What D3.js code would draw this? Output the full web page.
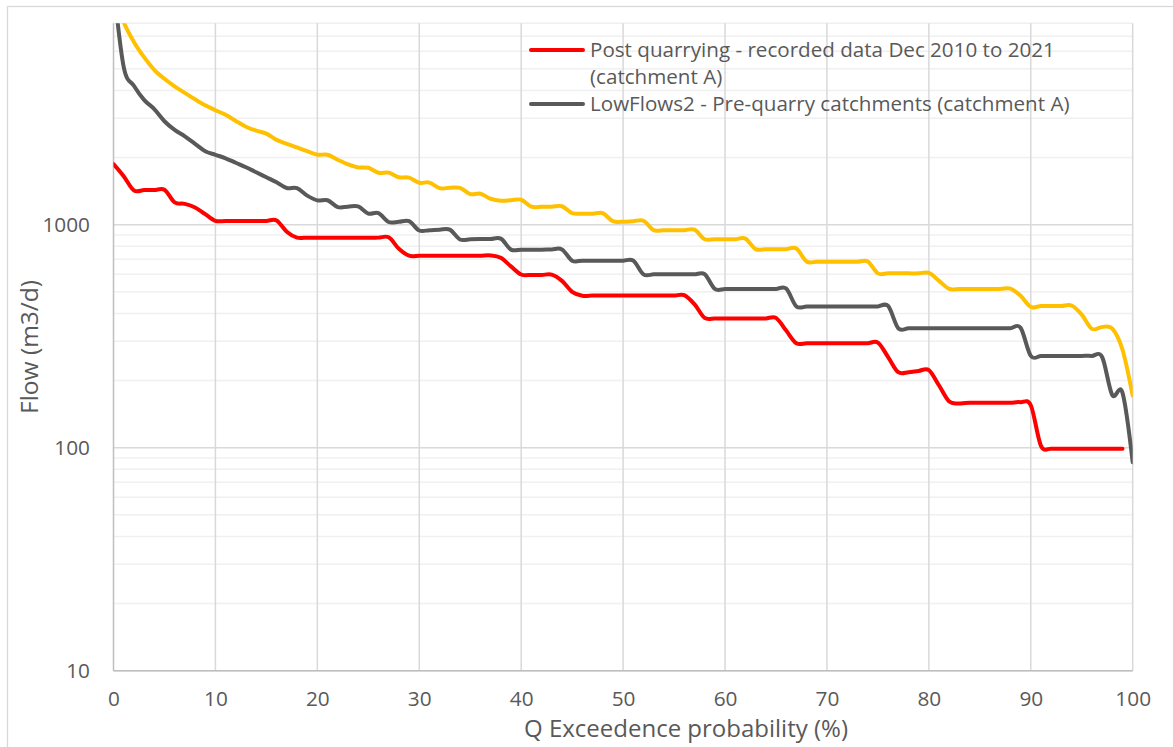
<html>
<head>
<meta charset='UTF-8'>
<title>Flow duration curve</title>
<script src='https://d3js.org/d3.v7.min.js'></script>
<style>
    body { margin: 0; background: #fff; }
    svg text { font-family: 'Open Sans', sans-serif; fill: #595959; }
</style>
</head>

<body>
    <div id='chart'></div>

    <script type='text/javascript'>

        // exceedence probability (%) - one point per percent
        var exceedence = d3.range(0, 101);

        // post quarrying, recorded data (stops at 99 %)
        var postQuarry = [1870, 1650, 1425, 1430, 1430, 1435, 1260, 1240, 1195, 1115,
                          1040, 1040, 1040, 1040, 1040, 1040, 1045, 930, 875, 875,
                          875, 875, 875, 875, 875, 875, 875, 878, 780, 726,
                          726, 726, 726, 726, 726, 726, 726, 728, 710, 650,
                          598, 595, 595, 597, 560, 500, 480, 481, 481, 481,
                          481, 481, 481, 481, 481, 481, 483, 440, 382, 380,
                          380, 380, 380, 380, 380, 382, 335, 294, 294, 294,
                          294, 294, 294, 294, 294, 296, 255, 218, 218, 221,
                          223, 190, 161, 158, 159, 159, 159, 159, 159, 160,
                          155, 102, 99, 99, 99, 99, 99, 99, 99, 99];

        // LowFlows2 pre-quarry catchments
        var lowFlows = [12000, 5100, 4200, 3630, 3300, 2910, 2660, 2490, 2305, 2135,
                        2058, 1985, 1895, 1810, 1718, 1632, 1550, 1460, 1457, 1350,
                        1285, 1287, 1200, 1204, 1208, 1122, 1126, 1028, 1031, 1037,
                        942, 945, 950, 950, 858, 861, 863, 863, 866, 773,
                        773, 773, 773, 775, 775, 690, 690, 690, 690, 690,
                        690, 690, 599, 599, 599, 599, 599, 599, 600, 515,
                        515, 515, 515, 515, 515, 515, 517, 430, 430, 430,
                        430, 430, 430, 430, 430, 430, 432, 343, 343, 343,
                        343, 343, 343, 343, 343, 343, 343, 343, 343, 345,
                        258, 258, 258, 258, 258, 258, 258, 255, 172, 176,
                        86];

        // third series (no legend entry)
        var upperSeries = [11000, 8100, 6600, 5640, 4950, 4510, 4170, 3900, 3650, 3430,
                           3260, 3110, 2920, 2750, 2640, 2560, 2400, 2305, 2220, 2135,
                           2060, 2060, 1955, 1866, 1806, 1800, 1710, 1712, 1632, 1625,
                           1542, 1545, 1458, 1464, 1462, 1372, 1377, 1307, 1282, 1288,
                           1294, 1204, 1204, 1205, 1210, 1126, 1120, 1120, 1126, 1037,
                           1031, 1037, 1042, 945, 945, 945, 945, 950, 861, 861,
                           861, 861, 866, 777, 777, 777, 777, 782, 684, 682,
                           682, 682, 682, 682, 684, 605, 605, 605, 605, 605,
                           608, 560, 515, 515, 515, 515, 515, 515, 517, 480,
                           428, 432, 432, 432, 434, 395, 341, 348, 342, 275,
                           171];

        var xTicks = [0, 10, 20, 30, 40, 50, 60, 70, 80, 90, 100];
        var yTicks = [10, 100, 1000];

        var legendNames = [['Post quarrying - recorded data Dec 2010 to 2021', '(catchment A)'],
                           ['LowFlows2 - Pre-quarry catchments (catchment A)']];

        var width = 1173,
            height = 747;

        var plot = {left: 113.5, right: 1132.7, top: 23.3, bottom: 670.7};

        var svg = d3.select('#chart').append('svg')
                    .attr('width', width)
                    .attr('height', height);

        // chart area border
        svg.append('rect')
           .attr('x', 7.5).attr('y', 6.5)
           .attr('width', 1300).attr('height', 900)
           .attr('fill', '#fff')
           .attr('stroke', '#d9d9d9')
           .attr('stroke-width', 1.3);

        var x = d3.scaleLinear().domain([0, 100]).range([plot.left, plot.right]);
        var y = d3.scaleLog().domain([10, 8000]).range([plot.bottom, plot.top]);

        // horizontal gridlines, minor ones lighter
        svg.append('g').selectAll('line')
           .data(y.ticks())
           .enter().append('line')
             .attr('x1', plot.left).attr('x2', plot.right)
             .attr('y1', function(d) { return y(d); })
             .attr('y2', function(d) { return y(d); })
             .attr('stroke', function(d) {
                 return Math.abs(Math.log10(d) - Math.round(Math.log10(d))) < 1e-9 ? '#d9d9d9' : '#f0f0f0';
             })
             .attr('stroke-width', 1.5);

        // vertical gridlines
        svg.append('g').selectAll('line')
           .data(xTicks.slice(1))
           .enter().append('line')
             .attr('x1', function(d) { return x(d); })
             .attr('x2', function(d) { return x(d); })
             .attr('y1', plot.top).attr('y2', plot.bottom)
             .attr('stroke', '#d9d9d9')
             .attr('stroke-width', 1.5);

        // axis lines
        svg.append('line')
           .attr('x1', plot.left).attr('x2', plot.left)
           .attr('y1', plot.top).attr('y2', plot.bottom)
           .attr('stroke', '#bfbfbf').attr('stroke-width', 1.5);
        svg.append('line')
           .attr('x1', plot.left).attr('x2', plot.right)
           .attr('y1', plot.bottom).attr('y2', plot.bottom)
           .attr('stroke', '#bfbfbf').attr('stroke-width', 1.5);

        // tick labels
        var yAxis = svg.append('g')
                       .attr('transform', 'translate(' + plot.left + ',0)')
                       .call(d3.axisLeft(y).tickValues(yTicks).tickSize(0).tickPadding(23.5).tickFormat(d3.format('d')));
        yAxis.select('.domain').remove();
        yAxis.selectAll('text')
             .style('font-size', '20.8px');

        var xAxis = svg.append('g')
                       .attr('transform', 'translate(0,' + plot.bottom + ')')
                       .call(d3.axisBottom(x).tickValues(xTicks).tickSize(0));
        xAxis.select('.domain').remove();
        xAxis.selectAll('text')
             .attr('y', 28)
             .attr('dy', '0.35em')
             .style('font-size', '20.8px');

        // axis titles
        svg.append('text')
           .text('Q Exceedence probability (%)')
           .attr('x', 686)
           .attr('y', 729)
           .attr('dy', '0.35em')
           .attr('text-anchor', 'middle')
           .style('font-size', '24px');

        svg.append('text')
           .text('Flow (m3/d)')
           .attr('transform', 'translate(29,' + (plot.top + plot.bottom) / 2 + ') rotate(-90)')
           .attr('dy', '0.35em')
           .attr('text-anchor', 'middle')
           .style('font-size', '24.5px');

        // series
        svg.append('clipPath').attr('id', 'plotClip')
           .append('rect')
             .attr('x', plot.left).attr('y', plot.top)
             .attr('width', plot.right - plot.left)
             .attr('height', plot.bottom - plot.top);

        var line = d3.line()
                     .x(function(d) { return x(d[0]); })
                     .y(function(d) { return y(d[1]); })
                     .curve(d3.curveCardinal.tension(0));

        var series = [
            {values: upperSeries, color: '#ffc000'},
            {values: lowFlows, color: '#595959'},
            {values: postQuarry, color: '#ff0000'}
        ];

        var lines = svg.append('g').attr('clip-path', 'url(#plotClip)');
        series.forEach(function(s) {
            var pts = s.values.map(function(v, i) { return [exceedence[i], v]; });
            lines.append('path')
                 .attr('d', line(pts))
                 .attr('fill', 'none')
                 .attr('stroke', s.color)
                 .attr('stroke-width', 4)
                 .attr('stroke-linejoin', 'round')
                 .attr('stroke-linecap', 'round');
        });

        // legend
        var legend = svg.append('g').attr('class', 'legend');
        var legendColors = ['#ff0000', '#595959'];
        var legendY = [50, 104];

        legendNames.forEach(function(name, i) {
            legend.append('line')
                  .attr('x1', 531).attr('x2', 583)
                  .attr('y1', legendY[i]).attr('y2', legendY[i])
                  .attr('stroke', legendColors[i])
                  .attr('stroke-width', 4)
                  .attr('stroke-linecap', 'round');
            var t = legend.append('text')
                          .style('font-size', '20.6px');
            name.forEach(function(part, j) {
                t.append('tspan')
                 .attr('x', 590)
                 .attr('y', legendY[i] + j * 27)
                 .attr('dy', '0.35em')
                 .text(part);
            });
        });

    </script>
</body>
</html>
